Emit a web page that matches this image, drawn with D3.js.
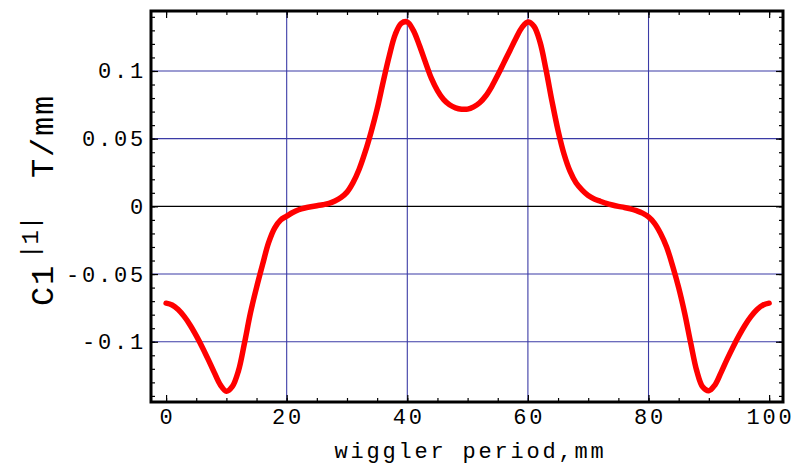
<!DOCTYPE html>
<html>
<head>
<meta charset="utf-8">
<script src="https://cdn.jsdelivr.net/npm/d3@7"></script>
<style>
  html, body { margin: 0; padding: 0; background: #fff; }
  svg { display: block; }
  .mono { font-family: "Liberation Mono", "DejaVu Sans Mono", monospace; fill: #000; }
</style>
</head>
<body>
<svg id="chart" width="794" height="466"></svg>
<script>
// Wiggler period (mm)
const periods = [
  0, 1, 2, 3, 4, 5, 6, 7, 8, 9,
  10, 11, 12, 13, 14, 15, 16, 17, 18, 19,
  20, 21, 22, 23, 24, 25, 26, 27, 28, 29,
  30, 31, 32, 33, 34, 35, 36, 37, 38, 39,
  40, 41, 42, 43, 44, 45, 46, 47, 48, 49,
  50, 51, 52, 53, 54, 55, 56, 57, 58, 59,
  60, 61, 62, 63, 64, 65, 66, 67, 68, 69,
  70, 71, 72, 73, 74, 75, 76, 77, 78, 79,
  80, 81, 82, 83, 84, 85, 86, 87, 88, 89,
  90, 91, 92, 93, 94, 95, 96, 97, 98, 99,
  100
];

// C1|1| coefficient, T/mm
const c1Values = [
  -0.0715, -0.0728, -0.0762, -0.0813, -0.0878, -0.0955, -0.1040, -0.1132, -0.1228, -0.1318,
  -0.1365, -0.1330, -0.1215, -0.1010, -0.0785, -0.0600, -0.0430, -0.0268, -0.0160, -0.0100,
  -0.0072, -0.0045, -0.0025, -0.0012, -0.0003, 0.0005, 0.0012, 0.0022, 0.0040, 0.0065,
  0.0105, 0.0175, 0.0272, 0.0400, 0.0550, 0.0720, 0.0920, 0.1110, 0.1270, 0.1352,
  0.1362, 0.1300, 0.1190, 0.1065, 0.0945, 0.0855, 0.0790, 0.0750, 0.0728, 0.0718,
  0.0718, 0.0735, 0.0765, 0.0815, 0.0885, 0.0970, 0.1060, 0.1150, 0.1240, 0.1320,
  0.1362, 0.1330, 0.1215, 0.1010, 0.0775, 0.0560, 0.0385, 0.0258, 0.0172, 0.0120,
  0.0080, 0.0055, 0.0038, 0.0022, 0.0010, 0.0000, -0.0008, -0.0018, -0.0032, -0.0050,
  -0.0078, -0.0125, -0.0200, -0.0300, -0.0440, -0.0600, -0.0790, -0.1010, -0.1215, -0.1335,
  -0.1362, -0.1320, -0.1230, -0.1132, -0.1040, -0.0955, -0.0878, -0.0813, -0.0762, -0.0728,
  -0.0715
];

const xTicks = [0, 20, 40, 60, 80, 100];
const xMinorTicks = [0, 5, 10, 15, 20, 25, 30, 35, 40, 45, 50, 55, 60, 65, 70, 75, 80, 85, 90, 95, 100];
const xGrid = [20, 40, 60, 80];
const yTicks = [-0.1, -0.05, 0, 0.05, 0.1];
const yTickLabels = ["-0.1", "-0.05", "0", "0.05", "0.1"];
const yMinorTicks = [-0.14, -0.13, -0.12, -0.11, -0.1, -0.09, -0.08, -0.07, -0.06, -0.05, -0.04, -0.03, -0.02, -0.01,
  0, 0.01, 0.02, 0.03, 0.04, 0.05, 0.06, 0.07, 0.08, 0.09, 0.1, 0.11, 0.12, 0.13, 0.14];
const yGrid = [-0.1, -0.05, 0.05, 0.1];

const frame = { left: 151, right: 783, top: 11, bottom: 402 };

const svg = d3.select("#chart");

const x = d3.scaleLinear().domain([-2.5, 102.3]).range([frame.left, frame.right]);
const y = d3.scaleLinear().domain([-0.1445, 0.1443]).range([frame.bottom, frame.top]);

const gridColor = "#3b3ba6";

// grid
const grid = svg.append("g");
grid.selectAll("line.vx").data(xGrid).join("line")
  .attr("x1", d => x(d)).attr("x2", d => x(d))
  .attr("y1", frame.top).attr("y2", frame.bottom)
  .attr("stroke", gridColor).attr("stroke-width", 1.1);
grid.selectAll("line.hy").data(yGrid).join("line")
  .attr("x1", frame.left).attr("x2", frame.right)
  .attr("y1", d => y(d)).attr("y2", d => y(d))
  .attr("stroke", gridColor).attr("stroke-width", 1.1);
grid.append("line")
  .attr("x1", frame.left).attr("x2", frame.right)
  .attr("y1", y(0)).attr("y2", y(0))
  .attr("stroke", "#000").attr("stroke-width", 1.4);

// curve
const line = d3.line()
  .x((d, i) => x(periods[i]))
  .y(d => y(d))
  .curve(d3.curveCatmullRom.alpha(0.5));

svg.append("path")
  .datum(c1Values)
  .attr("d", line)
  .attr("fill", "none")
  .attr("stroke", "#ff0000")
  .attr("stroke-width", 5.5)
  .attr("stroke-linecap", "round")
  .attr("stroke-linejoin", "round");

// inward tick marks on all four sides
function ticks(axis, translate) {
  const g = svg.append("g").attr("transform", translate).call(axis);
  g.select(".domain").remove();
  g.selectAll("text").remove();
  g.selectAll("line").attr("stroke", "#000").attr("stroke-width", 1.2);
  return g;
}
ticks(d3.axisBottom(x).tickValues(xMinorTicks).tickSize(-4), `translate(0,${frame.bottom})`);
ticks(d3.axisBottom(x).tickValues(xTicks).tickSize(-7), `translate(0,${frame.bottom})`);
ticks(d3.axisTop(x).tickValues(xMinorTicks).tickSize(-4), `translate(0,${frame.top})`);
ticks(d3.axisTop(x).tickValues(xTicks).tickSize(-7), `translate(0,${frame.top})`);
ticks(d3.axisLeft(y).tickValues(yMinorTicks).tickSize(-4), `translate(${frame.left},0)`);
ticks(d3.axisLeft(y).tickValues(yTicks).tickSize(-7), `translate(${frame.left},0)`);
ticks(d3.axisRight(y).tickValues(yMinorTicks).tickSize(-4), `translate(${frame.right},0)`);
ticks(d3.axisRight(y).tickValues(yTicks).tickSize(-7), `translate(${frame.right},0)`);

// frame
svg.append("rect")
  .attr("x", frame.left).attr("y", frame.top)
  .attr("width", frame.right - frame.left).attr("height", frame.bottom - frame.top)
  .attr("fill", "none").attr("stroke", "#000").attr("stroke-width", 3);

// tick labels
const labelSize = 22, labelSpacing = 2.8;
svg.append("g").selectAll("text").data(xTicks).join("text")
  .attr("class", "mono")
  .attr("x", d => x(d) + labelSpacing / 2)
  .attr("y", 424)
  .attr("text-anchor", "middle")
  .style("font-size", labelSize + "px")
  .style("letter-spacing", labelSpacing + "px")
  .text(d => String(d));

svg.append("g").selectAll("text").data(yTicks).join("text")
  .attr("class", "mono")
  .attr("x", 146)
  .attr("y", d => y(d) + 7.5)
  .attr("text-anchor", "end")
  .style("font-size", labelSize + "px")
  .style("letter-spacing", labelSpacing + "px")
  .text((d, i) => yTickLabels[i]);

// axis titles
svg.append("text")
  .attr("class", "mono")
  .attr("x", 469 + labelSpacing / 2)
  .attr("y", 458)
  .attr("text-anchor", "middle")
  .style("font-size", labelSize + "px")
  .style("letter-spacing", labelSpacing + "px")
  .text("wiggler period,mm");

const yTitle = svg.append("g").attr("transform", "translate(53,0) rotate(-90)");
yTitle.append("text")
  .attr("class", "mono")
  .attr("x", -306).attr("y", 0)
  .style("font-size", "32px")
  .style("letter-spacing", "1.8px")
  .text("C1");
yTitle.append("text")
  .attr("class", "mono")
  .attr("x", -259).attr("y", -15)
  .style("font-size", "24px")
  .style("letter-spacing", "0px")
  .text("|1|");
yTitle.append("text")
  .attr("class", "mono")
  .attr("x", -178).attr("y", 0)
  .style("font-size", "32px")
  .style("letter-spacing", "1.8px")
  .text("T/mm");
</script>
</body>
</html>
